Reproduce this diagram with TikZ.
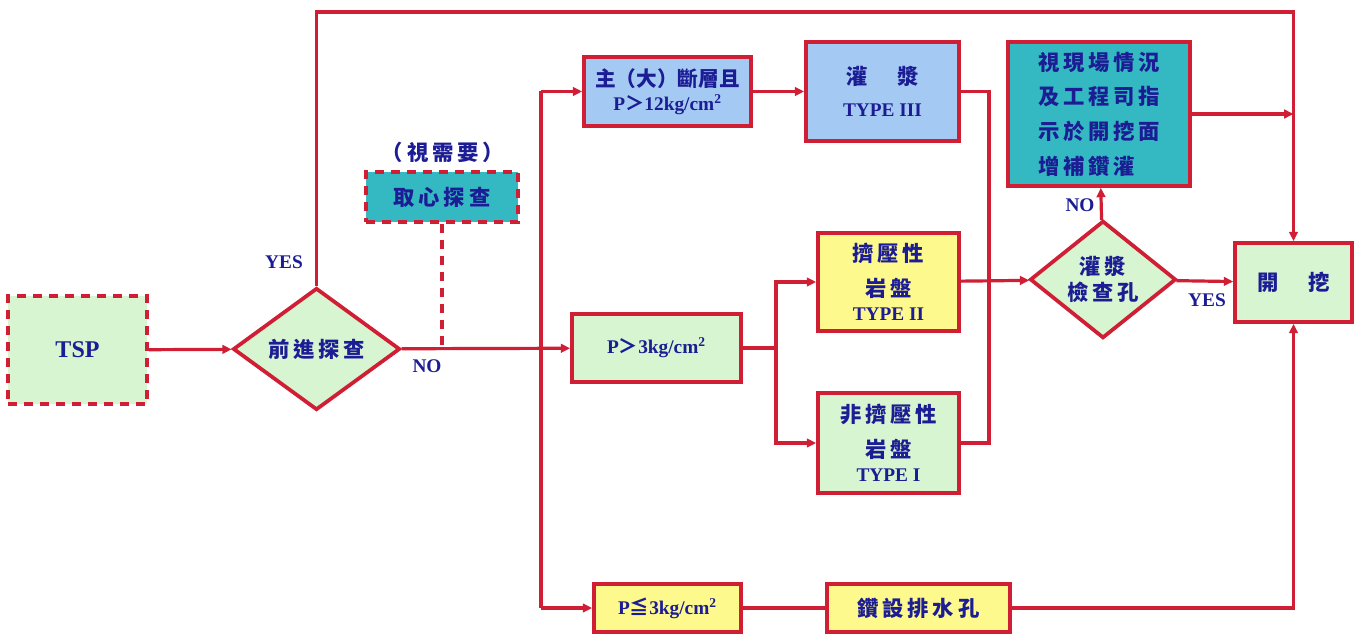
\documentclass[tikz,border=0pt]{standalone}
\usepackage{fontspec}
\setmainfont{Liberation Serif}
\newfontfamily\cjk[LetterSpace=18]{Noto Sans CJK TC}
\newfontfamily\cjktight{Noto Sans CJK TC}
\usetikzlibrary{shapes.geometric,arrows.meta}

\definecolor{linered}{RGB}{208,30,52}
\definecolor{textblue}{RGB}{28,28,148}
\definecolor{greenfill}{RGB}{214,245,208}
\definecolor{bluefill}{RGB}{164,202,244}
\definecolor{yellowfill}{RGB}{253,249,140}
\definecolor{tealfill}{RGB}{52,184,194}

\newcommand{\bigtext}{\bfseries\fontsize{16}{26}\selectfont}
\newcommand{\smalltext}{\bfseries\fontsize{14.5}{18}\selectfont}

\begin{document}
\begin{tikzpicture}[x=0.75pt,y=0.75pt,yscale=-1,xscale=1,
  box/.style={draw=linered, line width=2.8pt, rectangle, inner sep=0pt, align=center, text=textblue},
  dashbox/.style={box, dash pattern=on 7pt off 5pt},
  choice/.style={diamond, draw=linered, line width=2.8pt, inner sep=0pt, align=center, text=textblue, fill=greenfill},
  flow/.style={draw=linered, line width=2.4pt},
  arr/.style={flow, -{Triangle[length=7pt,width=6.5pt]}},
  tag/.style={text=textblue, font=\smalltext}]

\useasboundingbox (0,0) rectangle (1359,634);

% boxes
\node[dashbox, fill=greenfill, minimum width=104.25pt, minimum height=81pt, font=\bfseries\fontsize{18}{20}\selectfont] (tsp) at (77.5,350) {TSP};
\node[choice, minimum width=125.25pt, minimum height=91.5pt, font=\bigtext] (probe) at (316.5,349) {\cjk 前進探查};
\node[dashbox, fill=tealfill, minimum width=114pt, minimum height=37.5pt, font=\bigtext] (core) at (442,197) {\cjk 取心探查};
\node[box, fill=bluefill, minimum width=125.25pt, minimum height=51.75pt, font=\smalltext] (fault) at (667.5,91.5) {{\cjktight\fontsize{15.5}{20}\selectfont 主（大）斷層且}\\P{\cjktight ＞}12kg/cm\textsuperscript{2}};
\node[box, fill=bluefill, minimum width=114.75pt, minimum height=74.25pt, font=\smalltext] (grout3) at (882.5,91.5) {{\cjk\fontsize{16}{20}\selectfont 灌　漿}\\[6pt]TYPE III};
\node[box, fill=greenfill, minimum width=126.75pt, minimum height=51pt, font=\smalltext] (mid) at (656.5,348) {P{\cjktight ＞}3kg/cm\textsuperscript{2}};
\node[box, fill=yellowfill, minimum width=105.75pt, minimum height=73.5pt, font=\bigtext] (type2) at (888.5,282) {\cjk 擠壓性\\\cjk 岩盤\\[-8pt]{\smalltext TYPE II}};
\node[box, fill=greenfill, minimum width=105.75pt, minimum height=75pt, font=\bigtext] (type1) at (888.5,443) {\cjk 非擠壓性\\\cjk 岩盤\\[-8pt]{\smalltext TYPE I}};
\node[choice, minimum width=109.5pt, minimum height=81.75pt, font=\bfseries\fontsize{16}{19}\selectfont] (check) at (1103,279.5) {\cjk 灌漿\\\cjk 檢查孔};
\node[box, fill=tealfill, minimum width=136.5pt, minimum height=108pt, font=\bigtext, align=left] (extra) at (1099,114) {\cjk 視現場情況\\\cjk 及工程司指\\\cjk 示於開挖面\\\cjk 增補鑽灌};
\node[box, fill=greenfill, minimum width=87.75pt, minimum height=59.25pt, font=\bigtext] (dig) at (1293.5,282.5) {\cjk 開　挖};
\node[box, fill=yellowfill, minimum width=110.25pt, minimum height=36pt, font=\smalltext] (low) at (667.5,608) {P{\cjktight ≦}3kg/cm\textsuperscript{2}};
\node[box, fill=yellowfill, minimum width=137.25pt, minimum height=36pt, font=\bigtext] (drain) at (918.5,608) {\cjk 鑽設排水孔};

% labels
\node[tag] (yes1) at (284,262) {YES};
\node[tag] (no1) at (427,366) {NO};
\node[tag] (no2) at (1080,205) {NO};
\node[tag] (yes2) at (1207,300) {YES};
\node[text=textblue, font=\bigtext] (need) at (443,152) {\cjk （視需要）};

% helper points
\coordinate (top) at (316.5,12);
\coordinate (trunk) at (541,348);
\coordinate (split) at (776,348);
\coordinate (merge) at (989,282);

% connectors
\draw[arr] (tsp) -- (probe);
\draw[arr] (probe) -- (mid);
\draw[flow, dash pattern=on 7pt off 5pt] (core) -- (core |- probe.east);
\draw[arr] (probe.north) -- (top) -| (dig.north);
\draw[flow] (trunk |- fault) -- (trunk |- low);
\draw[arr] (trunk |- fault) -- (fault);
\draw[arr] (trunk |- low) -- (low);
\draw[arr] (fault) -- (grout3);
\draw[flow] (mid) -- (split);
\draw[arr] (split) |- (type2);
\draw[arr] (split) |- (type1);
\draw[flow] (grout3) -| (merge);
\draw[flow] (type1) -| (merge);
\draw[arr] (type2) -- (check);
\draw[arr] (check) -- (extra);
\draw[arr] (check) -- (dig);
\draw[arr] (extra) -- (extra -| dig.north);
\draw[flow] (low) -- (drain);
\draw[arr] (drain) -| (dig.south);

\end{tikzpicture}
\end{document}
